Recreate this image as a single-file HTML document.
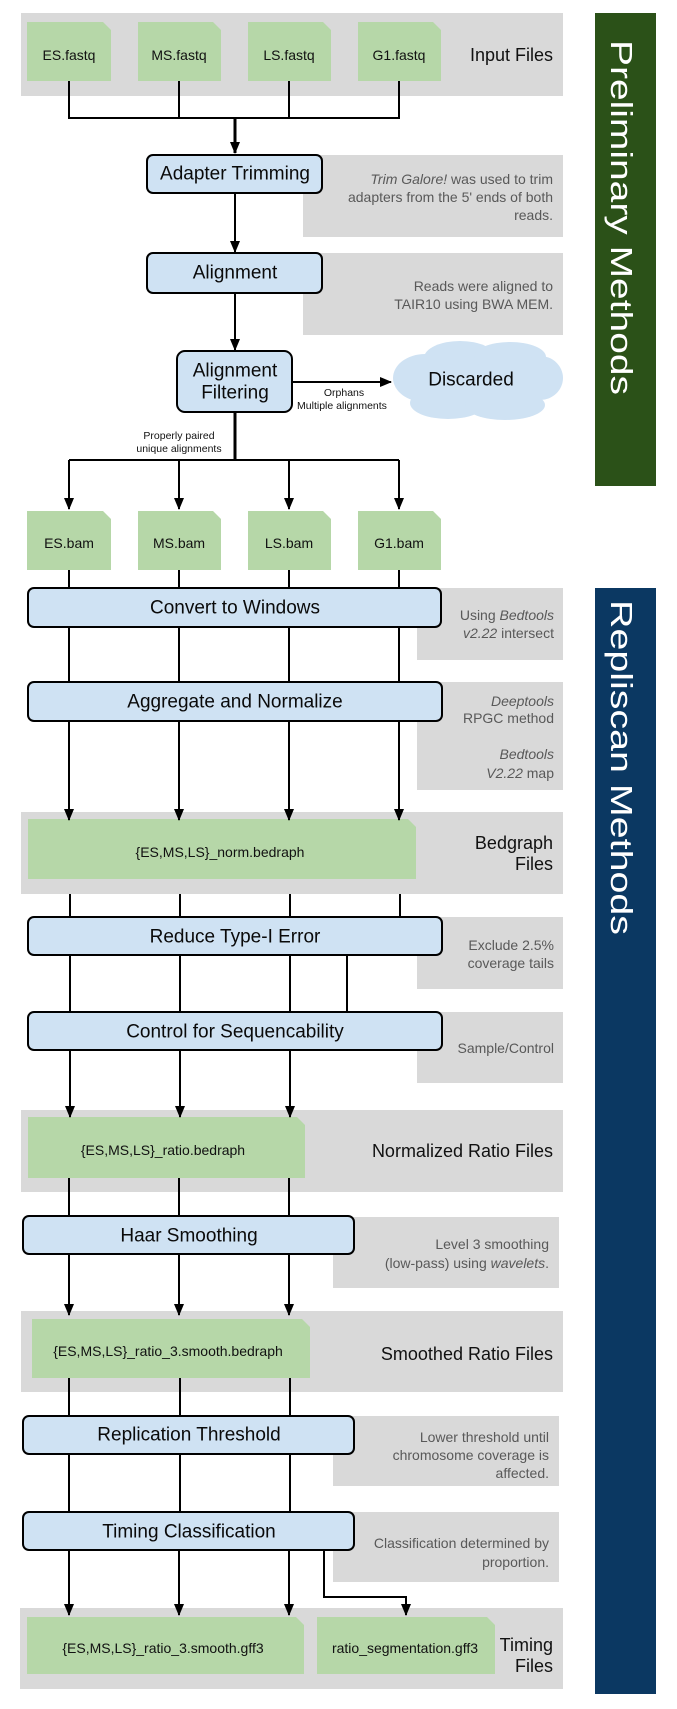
<!DOCTYPE html>
<html><head><meta charset="utf-8"><style>
html,body{margin:0;padding:0;background:#fff}
svg{display:block}
text{font-family:"Liberation Sans",Arial,sans-serif}
.n{font-size:14px;fill:#595959;text-anchor:end}
.b{font-size:19px;fill:#0a0a0a;text-anchor:middle}
.f{font-size:14px;fill:#111;text-anchor:middle}
.h{font-size:18px;fill:#111;text-anchor:end}
.s{font-size:10.5px;fill:#111;text-anchor:middle}
</style></head><body>
<svg width="677" height="1709" viewBox="0 0 677 1709" xmlns="http://www.w3.org/2000/svg">
<defs>
<marker id="a" markerWidth="12" markerHeight="12" refX="11" refY="6" orient="auto" markerUnits="userSpaceOnUse"><path d="M0,1 L12,6 L0,11 Z" fill="#000"/></marker>
</defs>
<g dominant-baseline="central">
<rect x="595" y="13" width="61" height="473" fill="#2b5118"/>
<text transform="translate(611,40) rotate(90)" font-size="31" fill="#fff" textLength="355" lengthAdjust="spacingAndGlyphs" dominant-baseline="alphabetic">Preliminary Methods</text>
<rect x="595" y="588" width="61" height="1106" fill="#0b3862"/>
<text transform="translate(611,600) rotate(90)" font-size="31" fill="#fff" textLength="335" lengthAdjust="spacingAndGlyphs" dominant-baseline="alphabetic">Repliscan Methods</text>

<g fill="#d9d9d9">
<rect x="21" y="13" width="542" height="83"/>
<rect x="303" y="155" width="260" height="82"/>
<rect x="303" y="253" width="260" height="82"/>
<rect x="417" y="588" width="146" height="72"/>
<rect x="417" y="682" width="146" height="108"/>
<rect x="21" y="812" width="542" height="82"/>
<rect x="417" y="917" width="146" height="72"/>
<rect x="417" y="1012" width="146" height="71"/>
<rect x="21" y="1110" width="542" height="82"/>
<rect x="333" y="1217" width="226" height="71"/>
<rect x="21" y="1311" width="542" height="81"/>
<rect x="333" y="1416" width="226" height="70"/>
<rect x="333" y="1512" width="226" height="70"/>
<rect x="20" y="1608" width="543" height="81"/>
</g>

<g fill="#b6d7a8">
<path d="M27,22 H103 L111,30 V81 H27 Z"/>
<path d="M138,22 H213 L221,30 V81 H138 Z"/>
<path d="M248,22 H323 L331,30 V81 H248 Z"/>
<path d="M358,22 H433 L441,30 V81 H358 Z"/>
<path d="M27,511 H103 L111,519 V570 H27 Z"/>
<path d="M138,511 H213 L221,519 V570 H138 Z"/>
<path d="M248,511 H323 L331,519 V570 H248 Z"/>
<path d="M358,511 H433 L441,519 V570 H358 Z"/>
<path d="M28,819 H408 L416,827 V879 H28 Z"/>
<path d="M28,1117 H297 L305,1125 V1178 H28 Z"/>
<path d="M32,1319 H302 L310,1327 V1378 H32 Z"/>
<path d="M27,1617 H296 L304,1625 V1674 H27 Z"/>
<path d="M317,1617 H487 L495,1625 V1674 H317 Z"/>
</g>
<text class="f" x="69" y="55">ES.fastq</text>
<text class="f" x="179" y="55">MS.fastq</text>
<text class="f" x="289" y="55">LS.fastq</text>
<text class="f" x="399" y="55">G1.fastq</text>
<text class="h" x="553" y="55">Input Files</text>
<text class="f" x="69" y="543">ES.bam</text>
<text class="f" x="179" y="543">MS.bam</text>
<text class="f" x="289" y="543">LS.bam</text>
<text class="f" x="399" y="543">G1.bam</text>
<text class="f" x="220" y="852">{ES,MS,LS}_norm.bedraph</text>
<text class="h" x="553" y="843">Bedgraph</text>
<text class="h" x="553" y="864">Files</text>
<text class="f" x="163" y="1150">{ES,MS,LS}_ratio.bedraph</text>
<text class="h" x="553" y="1151">Normalized Ratio Files</text>
<text class="f" x="168" y="1351">{ES,MS,LS}_ratio_3.smooth.bedraph</text>
<text class="h" x="553" y="1354">Smoothed Ratio Files</text>
<text class="f" x="163" y="1648">{ES,MS,LS}_ratio_3.smooth.gff3</text>
<text class="f" x="405" y="1648">ratio_segmentation.gff3</text>
<text class="h" x="553" y="1645">Timing</text>
<text class="h" x="553" y="1666">Files</text>

<g stroke="#000" stroke-width="2" fill="none">
<path d="M69,81 V118 H399 V81 M179,81 V118 M289,81 V118"/>
<path d="M235,118 V153" stroke-width="3" marker-end="url(#a)"/>
<path d="M235,193 V252" marker-end="url(#a)"/>
<path d="M235,293 V350" marker-end="url(#a)"/>
<path d="M292,382 H391" marker-end="url(#a)"/>
<path d="M235,412 V460" stroke-width="3"/>
<path d="M69,460 H399"/>
<path d="M69,460 V509" marker-end="url(#a)"/>
<path d="M179,460 V509" marker-end="url(#a)"/>
<path d="M289,460 V509" marker-end="url(#a)"/>
<path d="M399,460 V509" marker-end="url(#a)"/>
<path d="M69,570 V588 M179,570 V588 M289,570 V588 M399,570 V588"/>
<path d="M69,627 V682 M179,627 V682 M289,627 V682 M399,627 V682"/>
<path d="M69,721 V820" marker-end="url(#a)"/>
<path d="M179,721 V820" marker-end="url(#a)"/>
<path d="M289,721 V820" marker-end="url(#a)"/>
<path d="M399,721 V820" marker-end="url(#a)"/>
<path d="M70,894 V917 M180,894 V917 M290,894 V917 M400,894 V917"/>
<path d="M70,955 V1012 M180,955 V1012 M290,955 V1012 M347,955 V1012"/>
<path d="M70,1050 V1117" marker-end="url(#a)"/>
<path d="M180,1050 V1117" marker-end="url(#a)"/>
<path d="M290,1050 V1117" marker-end="url(#a)"/>
<path d="M69,1178 V1216 M179,1178 V1216 M289,1178 V1216"/>
<path d="M69,1254 V1315" marker-end="url(#a)"/>
<path d="M179,1254 V1315" marker-end="url(#a)"/>
<path d="M289,1254 V1315" marker-end="url(#a)"/>
<path d="M69,1378 V1416 M180,1378 V1416 M290,1378 V1416"/>
<path d="M69,1454 V1512 M180,1454 V1512 M290,1454 V1512"/>
<path d="M69,1550 V1615" marker-end="url(#a)"/>
<path d="M179,1550 V1615" marker-end="url(#a)"/>
<path d="M289,1550 V1615" marker-end="url(#a)"/>
<path d="M324,1550 V1597 H406 V1615" marker-end="url(#a)"/>
</g>

<g fill="#cfe2f3" stroke="#000" stroke-width="2">
<rect x="147" y="155" width="175" height="38" rx="6"/>
<rect x="147" y="253" width="175" height="40" rx="6"/>
<rect x="177" y="351" width="115" height="61" rx="8"/>
<rect x="28" y="588" width="413" height="39" rx="6"/>
<rect x="28" y="682" width="414" height="39" rx="6"/>
<rect x="28" y="917" width="414" height="38" rx="6"/>
<rect x="28" y="1012" width="414" height="38" rx="6"/>
<rect x="23" y="1216" width="331" height="38" rx="6"/>
<rect x="23" y="1416" width="331" height="38" rx="6"/>
<rect x="23" y="1512" width="331" height="38" rx="6"/>
</g>
<text class="b" x="235" y="174">Adapter Trimming</text>
<text class="b" x="235" y="273">Alignment</text>
<text class="b" x="235" y="371">Alignment</text>
<text class="b" x="235" y="393">Filtering</text>
<text class="b" x="235" y="608">Convert to Windows</text>
<text class="b" x="235" y="702">Aggregate and Normalize</text>
<text class="b" x="235" y="937">Reduce Type-I Error</text>
<text class="b" x="235" y="1032">Control for Sequencability</text>
<text class="b" x="189" y="1236">Haar Smoothing</text>
<text class="b" x="189" y="1435">Replication Threshold</text>
<text class="b" x="189" y="1532">Timing Classification</text>

<g fill="#cfe2f3">
<ellipse cx="478" cy="381" rx="78" ry="28"/>
<ellipse cx="425" cy="378" rx="32" ry="24"/>
<ellipse cx="460" cy="358" rx="36" ry="17"/>
<ellipse cx="510" cy="357" rx="36" ry="15"/>
<ellipse cx="540" cy="378" rx="23" ry="22"/>
<ellipse cx="448" cy="403" rx="38" ry="16"/>
<ellipse cx="505" cy="405" rx="40" ry="15"/>
</g>
<text class="b" x="471" y="380">Discarded</text>
<text class="s" x="344" y="393">Orphans</text>
<text class="s" x="342" y="406">Multiple alignments</text>
<text class="s" x="179" y="436">Properly paired</text>
<text class="s" x="179" y="449">unique alignments</text>

<text class="n" x="553" y="179"><tspan font-style="italic">Trim Galore!</tspan> was used to trim</text>
<text class="n" x="553" y="197">adapters from the 5' ends of both</text>
<text class="n" x="553" y="215">reads.</text>
<text class="n" x="553" y="286">Reads were aligned to</text>
<text class="n" x="553" y="304">TAIR10 using BWA MEM.</text>
<text class="n" x="554" y="615">Using <tspan font-style="italic">Bedtools</tspan></text>
<text class="n" x="554" y="633"><tspan font-style="italic">v2.22</tspan> intersect</text>
<text class="n" x="554" y="701" font-style="italic">Deeptools</text>
<text class="n" x="554" y="718">RPGC method</text>
<text class="n" x="554" y="754" font-style="italic">Bedtools</text>
<text class="n" x="554" y="773"><tspan font-style="italic">V2.22</tspan> map</text>
<text class="n" x="554" y="945">Exclude 2.5%</text>
<text class="n" x="554" y="963">coverage tails</text>
<text class="n" x="554" y="1048">Sample/Control</text>
<text class="n" x="549" y="1244">Level 3 smoothing</text>
<text class="n" x="549" y="1263">(low-pass) using <tspan font-style="italic">wavelets</tspan>.</text>
<text class="n" x="549" y="1437">Lower threshold until</text>
<text class="n" x="549" y="1455">chromosome coverage is</text>
<text class="n" x="549" y="1473">affected.</text>
<text class="n" x="549" y="1543">Classification determined by</text>
<text class="n" x="549" y="1562">proportion.</text>
</g>
</svg>
</body></html>
